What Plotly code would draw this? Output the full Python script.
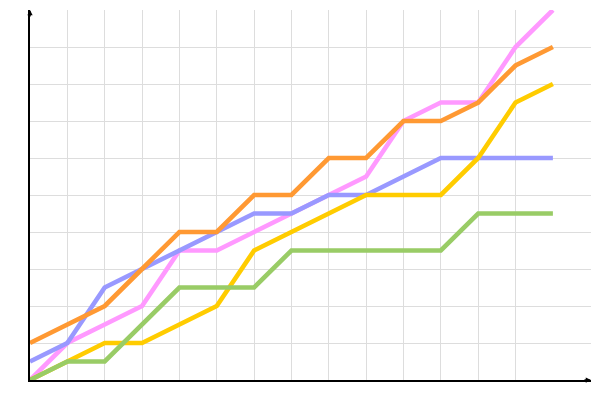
import plotly.graph_objects as go

x_vals = list(range(15))
pink = [0, 1, 1.5, 2, 3.5, 3.5, 4, 4.5, 5, 5.5, 7, 7.5, 7.5, 9, 10]
blue = [0.5, 1, 2.5, 3, 3.5, 4, 4.5, 4.5, 5, 5, 5.5, 6, 6, 6, 6]
orange = [1, 1.5, 2, 3, 4, 4, 5, 5, 6, 6, 7, 7, 7.5, 8.5, 9]
yellow = [0, 0.5, 1, 1, 1.5, 2, 3.5, 4, 4.5, 5, 5, 5, 6, 7.5, 8]
green = [0, 0.5, 0.5, 1.5, 2.5, 2.5, 2.5, 3.5, 3.5, 3.5, 3.5, 3.5, 4.5, 4.5, 4.5]

series = [
    ("pink", pink, "#ff99ff"),
    ("blue", blue, "#9999ff"),
    ("orange", orange, "#ff9933"),
    ("yellow", yellow, "#ffcc00"),
    ("green", green, "#99cc66"),
]

fig = go.Figure()
for name, vals, col in series:
    fig.add_trace(go.Scatter(x=x_vals, y=vals, mode="lines", name=name,
                             line=dict(color=col, width=4.6), cliponaxis=False))

# page body has an 8px default margin, so the figure is sized/offset to compensate
fig.update_layout(
    width=592, height=392,
    margin=dict(l=22, r=9, t=2, b=20),
    paper_bgcolor="white", plot_bgcolor="white",
    showlegend=False,
    xaxis=dict(range=[0, 15.02], tickvals=list(range(1, 14)), showticklabels=False,
               showgrid=True, gridcolor="#dddddd", gridwidth=1, zeroline=False,
               showline=True, linecolor="black", linewidth=1.5, ticks=""),
    yaxis=dict(range=[0, 10], tickvals=list(range(1, 10)), showticklabels=False,
               showgrid=True, gridcolor="#dddddd", gridwidth=1, zeroline=False,
               showline=True, linecolor="black", linewidth=1.5, ticks=""),
    annotations=[
        dict(x=0, y=10, xref="x", yref="y", ax=0, ay=8, text="", showarrow=True,
             arrowhead=2, arrowsize=0.7, arrowwidth=1.5, arrowcolor="black", standoff=0),
        dict(x=15.02, y=0, xref="x", yref="y", ax=-8, ay=0, text="", showarrow=True,
             arrowhead=2, arrowsize=0.7, arrowwidth=1.5, arrowcolor="black", standoff=0),
    ],
)

fig.write_html("out.html")
